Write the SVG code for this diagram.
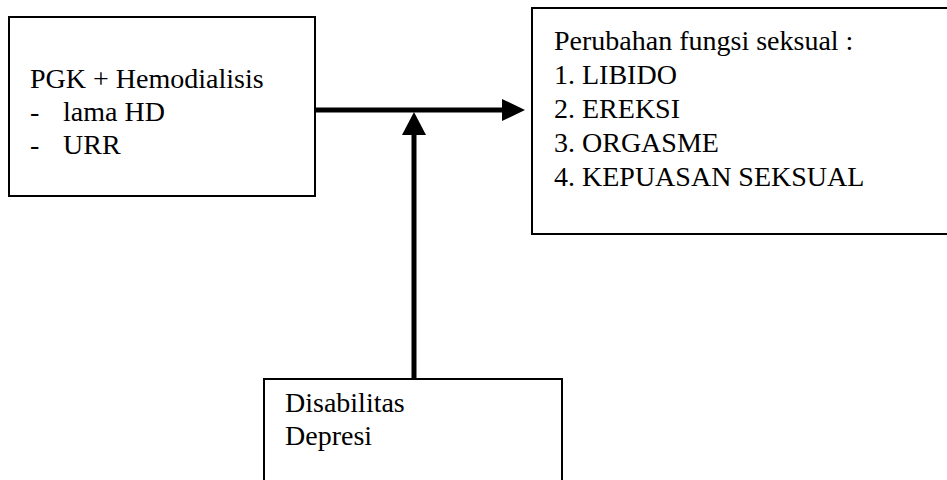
<svg xmlns="http://www.w3.org/2000/svg" width="947" height="480" viewBox="0 0 947 480">
<style>
.box{fill:#fff;stroke:#000;stroke-width:2}
text{font-family:'Liberation Serif','DejaVu Serif',serif;font-size:28px;fill:#000}
.ln{stroke:#000;stroke-width:5;fill:none}
</style>
<rect width="947" height="480" fill="#fff"/>
<g id="node-pgk">
<rect class="box" x="9" y="17" width="306" height="179"/>
<text x="30" y="88">PGK + Hemodialisis</text>
<text x="30" y="121">-</text>
<text x="63" y="121">lama HD</text>
<text x="30" y="154">-</text>
<text x="63" y="154">URR</text>
</g>
<g id="node-fungsi">
<rect class="box" x="532" y="8" width="420" height="226"/>
<text x="554" y="50">Perubahan fungsi seksual :</text>
<text x="554" y="84">1. LIBIDO</text>
<text x="554" y="118">2. EREKSI</text>
<text x="554" y="152">3. ORGASME</text>
<text x="554" y="186">4. KEPUASAN SEKSUAL</text>
</g>
<g id="node-disabilitas">
<rect class="box" x="264" y="379" width="298" height="110"/>
<text x="285" y="412">Disabilitas</text>
<text x="285" y="445">Depresi</text>
</g>
<g id="connectors">
<line class="ln" x1="315" y1="110" x2="503" y2="110"/>
<polygon points="502,99 525,110 502,121" fill="#000"/>
<line class="ln" x1="414" y1="379" x2="414" y2="134"/>
<polygon points="402,135 414,112 426,135" fill="#000"/>
</g>
</svg>
